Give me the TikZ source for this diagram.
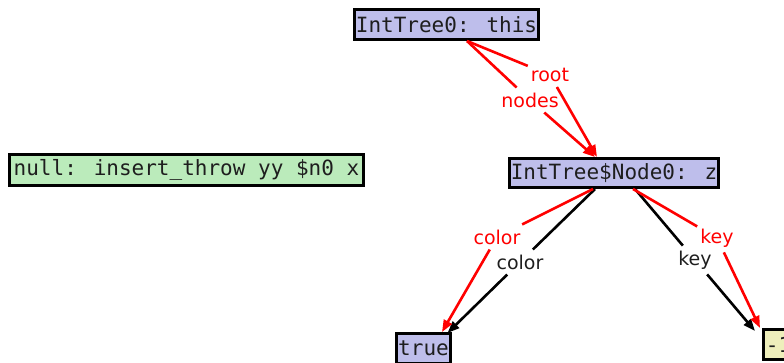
\documentclass[tikz,border=0pt]{standalone}
\usepackage{fontspec}
\setmainfont{DejaVu Sans}
\newfontfamily\monof{DejaVu Sans Mono}
\usetikzlibrary{arrows.meta}
\definecolor{lav}{RGB}{190,190,235}
\definecolor{pgreen}{RGB}{187,235,187}
\definecolor{pyellow}{RGB}{238,238,187}
\definecolor{ink}{RGB}{30,30,30}
\begin{document}
\begin{tikzpicture}[x=1pt,y=-1pt,
  box/.style={draw=black, line width=3pt, inner sep=0pt,
    font=\monof\fontsize{21}{24}\selectfont, text=ink},
  lbl/.style={font=\fontsize{19}{22}\selectfont, inner xsep=3pt, inner ysep=5pt},
  redlbl/.style={lbl, text=red},
  blklbl/.style={lbl, text=ink},
  tip/.style={-{Triangle[length=12pt,width=9pt]}},
  rededge/.style={tip, draw=red, fill=red, line width=2.6pt},
  blkedge/.style={tip, draw=black, fill=black, line width=2.6pt}]
\useasboundingbox (0,0) rectangle (784,362);

% nodes
\node[box, fill=lav, minimum width=184pt, minimum height=30pt] (this) at (446.5,24.5) {IntTree0: this};
\node[box, fill=pgreen, minimum width=354pt, minimum height=31pt] (null) at (186.5,170) {null: insert\_throw yy \$n0 x};
\node[box, fill=lav, minimum width=209pt, minimum height=29pt] (z) at (614,173) {IntTree\$Node0: z};
\node[box, fill=lav, minimum width=54pt, minimum height=30pt] (true) at (423.5,348.5) {true};
\node[box, fill=pyellow, minimum width=30pt, minimum height=30pt, anchor=north west] (m1) at (762,328) {-1};

% edge labels
\node[redlbl] (rootl) at (550,75) {root};
\node[redlbl] (nodesl) at (530,100) {nodes};
\node[redlbl] (colorr) at (497,237) {color};
\node[blklbl] (colorb) at (520,262) {color};
\node[redlbl] (keyr) at (717,238) {key};
\node[blklbl] (keyb) at (695,260) {key};

% edges
\draw[rededge] ([xshift=20.5pt]this.south) -- (rootl) -- ([xshift=-17pt]z.north);
\draw[rededge] ([xshift=20.5pt]this.south) -- (nodesl) -- ([xshift=-19pt]z.north);
\draw[blkedge] ([xshift=-19pt]z.south) -- (colorb) -- ([xshift=24pt,yshift=-1pt]true.north);
\draw[rededge] ([xshift=-21pt]z.south) -- (colorr) -- ([xshift=18.5pt]true.north);
\draw[blkedge] ([xshift=21pt]z.south) -- (keyb) -- ([xshift=-7pt,yshift=-3pt]m1.north west);
\draw[rededge] ([xshift=19pt]z.south) -- (keyr) -- ([xshift=-2pt]m1.north west);
\end{tikzpicture}
\end{document}
